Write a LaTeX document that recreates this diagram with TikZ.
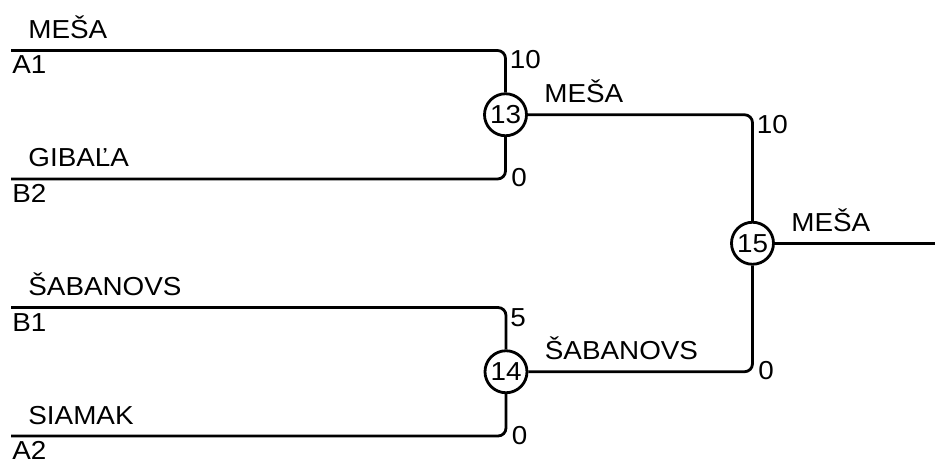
\documentclass[tikz,border=0pt]{standalone}
\usepackage{fontspec}
\setmainfont[FakeStretch=1.07]{Liberation Sans}
\usepackage{tikz}

\begin{document}
\begin{tikzpicture}[font=\fontsize{14.8}{18}\selectfont, line width=1.6pt,
    game/.style={draw, circle, minimum size=0.84cm, inner sep=0pt},
    bracket/.style={rounded corners=0.16cm},
    player/.style={anchor=base west, inner sep=0pt, xshift=0.32cm, yshift=0.24cm},
    seed/.style={anchor=base west, inner sep=0pt, yshift=-0.47cm},
    winner/.style={anchor=base west, inner sep=0pt, xshift=0.75cm, yshift=0.245cm},
    hi/.style={anchor=base west, inner sep=0pt, xshift=0.06cm, yshift=-0.37cm},
    lo/.style={anchor=base west, inner sep=0pt, xshift=0.09cm, yshift=-0.16cm}]
    \useasboundingbox (0,0) rectangle (18.7,-9.24);

    % seeds
    \coordinate (cA1) at (0.22, -1.01);
    \coordinate (cB2) at (0.22, -3.58);
    \coordinate (cB1) at (0.22, -6.15);
    \coordinate (cA2) at (0.22, -8.72);
    % final
    \coordinate (cEnd) at (18.7, -4.865);

    % games
    \node [game] (g13) at (10.11, -2.295) {13};
    \node [game] (g14) at (10.12, -7.435) {14};
    \node [game] (g15) at (15.05, -4.865) {15};

    \draw [bracket] (cA1) -| (g13);
    \draw [bracket] (cB2) -| (g13);
    \draw [bracket] (cB1) -| (g14);
    \draw [bracket] (cA2) -| (g14);
    \draw [bracket] (g13) -| (g15);
    \draw [bracket] (g14) -| (g15);
    \draw (g15) -- (cEnd);

    \node [player] (nA1) at (cA1) {MEŠA};
    \node [seed] (sA1) at (cA1) {A1};
    \node [player] (nB2) at (cB2) {GIBAĽA};
    \node [seed] (sB2) at (cB2) {B2};
    \node [player] (nB1) at (cB1) {ŠABANOVS};
    \node [seed] (sB1) at (cB1) {B1};
    \node [player] (nA2) at (cA2) {SIAMAK};
    \node [seed] (sA2) at (cA2) {A2};

    \node [hi] (pA1) at (g13 |- cA1) {10};
    \node [lo] (pB2) at (g13 |- cB2) {0};
    \node [hi] (pB1) at (g14 |- cB1) {5};
    \node [lo] (pA2) at (g14 |- cA2) {0};
    \node [hi] (p13) at (g15 |- g13) {10};
    \node [lo] (p14) at (g15 |- g14) {0};

    \node [winner] (w13) at (g13) {MEŠA};
    \node [winner] (w14) at (g14) {ŠABANOVS};
    \node [winner] (w15) at (g15) {MEŠA};
\end{tikzpicture}
\end{document}
